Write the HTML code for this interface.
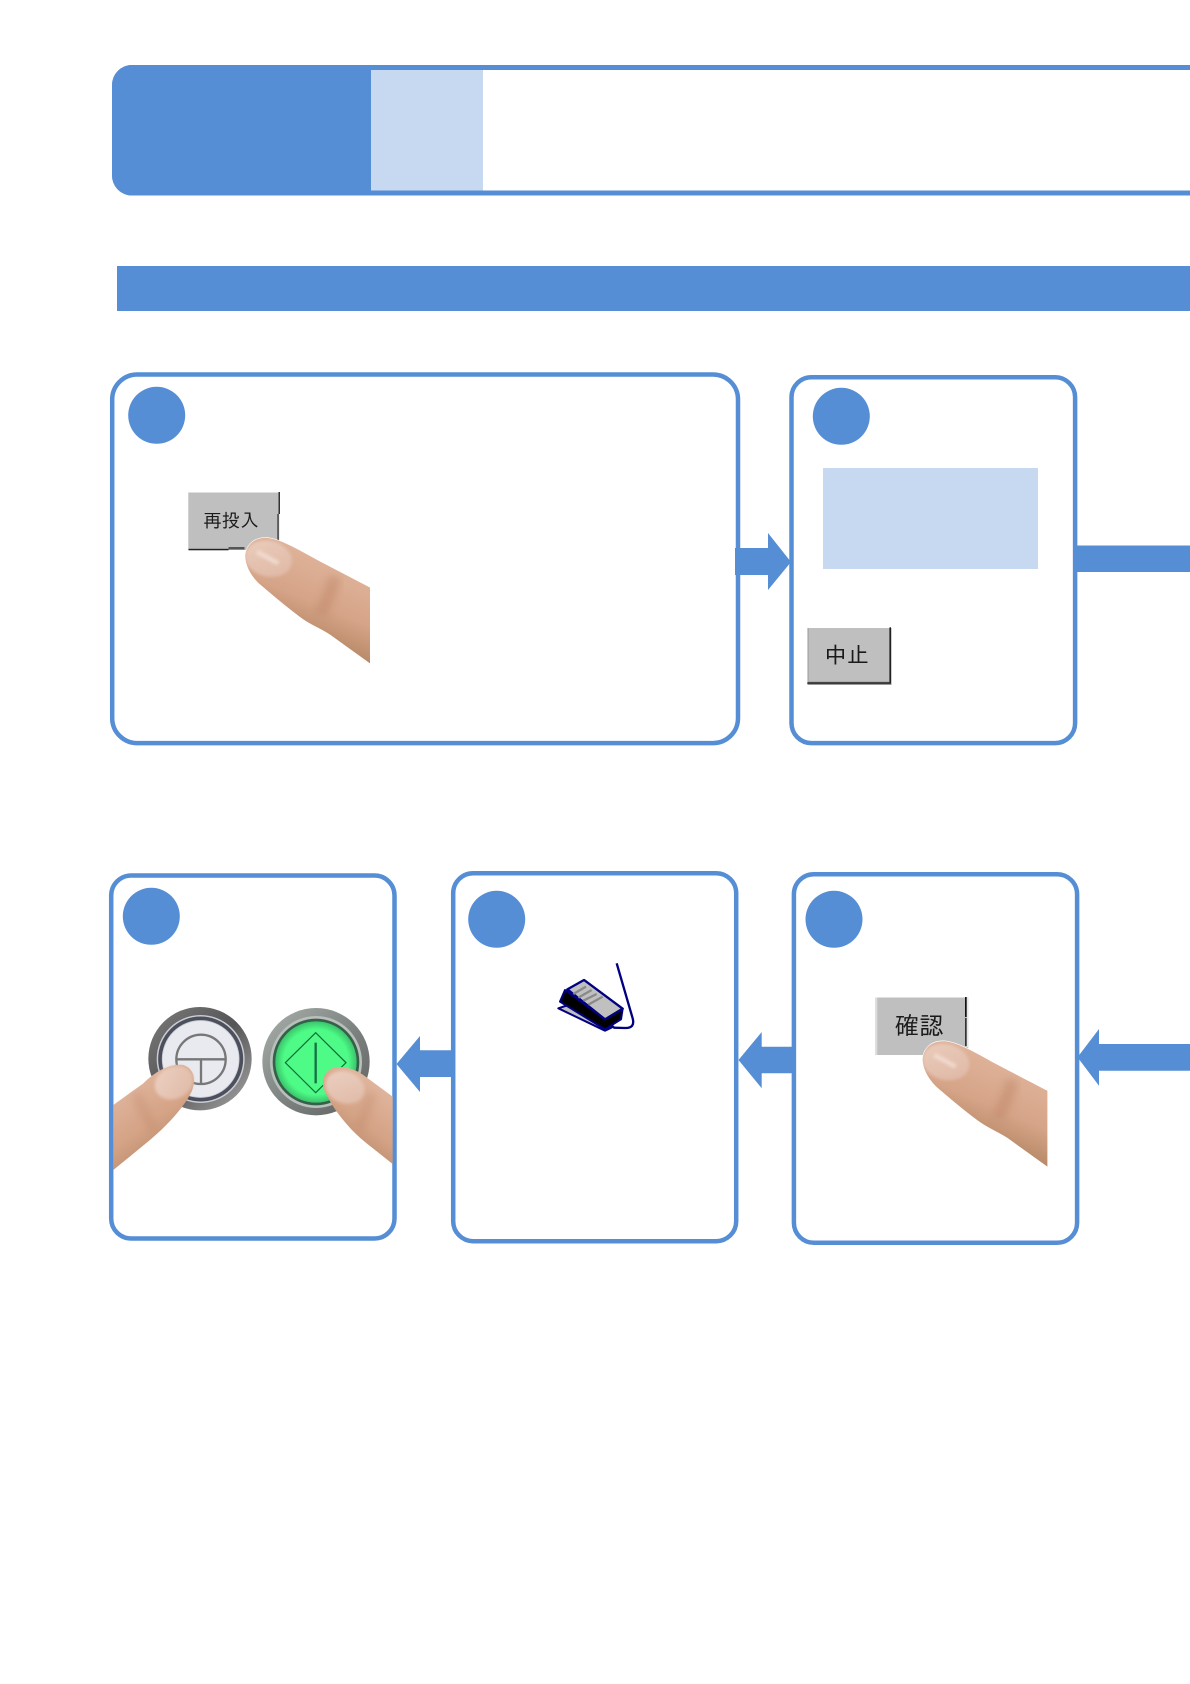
<!DOCTYPE html>
<html lang="ja">
<head>
<meta charset="utf-8">
<style>
html,body{margin:0;padding:0;background:#fff}
body{width:1190px;height:1684px;overflow:hidden}
svg{display:block}
text{font-family:"Liberation Sans","IPAGothic","Noto Sans CJK JP",sans-serif;fill:#1a1a1a}
</style>
</head>
<body>
<svg width="1190" height="1684" viewBox="0 0 1190 1684" xmlns="http://www.w3.org/2000/svg">
<defs>
  <linearGradient id="fing" x1="0.62" y1="0.1" x2="0.3" y2="0.85">
    <stop offset="0" stop-color="#e0b59c"/>
    <stop offset="0.5" stop-color="#d6a488"/>
    <stop offset="1" stop-color="#a97d58"/>
  </linearGradient>
  <linearGradient id="fingL" x1="0.3" y1="0.1" x2="0.7" y2="0.85">
    <stop offset="0" stop-color="#e0b69e"/>
    <stop offset="0.55" stop-color="#d5a386"/>
    <stop offset="1" stop-color="#b98a6a"/>
  </linearGradient>
  <linearGradient id="fingR" x1="0.7" y1="0.1" x2="0.3" y2="0.85">
    <stop offset="0" stop-color="#e0b69e"/>
    <stop offset="0.55" stop-color="#d5a386"/>
    <stop offset="1" stop-color="#b98a6a"/>
  </linearGradient>
  <linearGradient id="nail" x1="0" y1="0" x2="1" y2="1">
    <stop offset="0" stop-color="#ecd0c2"/>
    <stop offset="1" stop-color="#dfb9a6"/>
  </linearGradient>
  <linearGradient id="ring1" x1="0" y1="0" x2="1" y2="1">
    <stop offset="0" stop-color="#7c7c7c"/>
    <stop offset="0.5" stop-color="#555557"/>
    <stop offset="1" stop-color="#a8a8a8"/>
  </linearGradient>
  <linearGradient id="ring2" x1="0" y1="0" x2="1" y2="1">
    <stop offset="0" stop-color="#a9b0ac"/>
    <stop offset="0.5" stop-color="#7f8582"/>
    <stop offset="1" stop-color="#5f5f5f"/>
  </linearGradient>
  <radialGradient id="green">
    <stop offset="0.8" stop-color="#4dfb86"/>
    <stop offset="1" stop-color="#3cc46c"/>
  </radialGradient>
  <filter id="b3" x="-30%" y="-30%" width="160%" height="160%"><feGaussianBlur stdDeviation="5"/></filter>
  <filter id="b8" x="-60%" y="-30%" width="220%" height="160%"><feGaussianBlur stdDeviation="12"/></filter>
  <clipPath id="fclip"><path d="M435,585 C440,550 465,530 505,533 C545,538 600,570 650,598 L811,682 L811,912 L690,825 C660,805 630,795 600,772 C550,735 510,700 475,670 C450,645 435,615 435,585 Z"/></clipPath>
  <g id="finger">
    <path d="M435,585 C440,550 465,530 505,533 C545,538 600,570 650,598 L811,682 L811,912 L690,825 C660,805 630,795 600,772 C550,735 510,700 475,670 C450,645 435,615 435,585 Z" fill="url(#fing)" stroke="#fff" stroke-width="2"/>
    <g clip-path="url(#fclip)">
      <path d="M705,650 C695,690 680,725 660,765" stroke="#bd8466" stroke-width="38" fill="none" opacity=".45" filter="url(#b8)"/>
      <ellipse cx="505" cy="596" rx="72" ry="54" fill="url(#nail)" transform="rotate(14 505 596)" filter="url(#b3)" opacity=".9"/>
      <path d="M470,575 L535,610" stroke="#f3e0d6" stroke-width="14" fill="none" opacity=".8" filter="url(#b3)"/>
    </g>
  </g>
</defs>

<!-- header -->
<path d="M1190,65 H132 A20,20 0 0 0 112,85 V175 A20,20 0 0 0 132,195.500 H1190 V190.500 H371 V70 H1190 Z" fill="#558ed5"/>
<rect x="112" y="65" width="259" height="130.500" rx="20" fill="#558ed5"/>
<rect x="150" y="65" width="221" height="130.500" fill="#558ed5"/>
<rect x="371" y="70" width="112" height="120.500" fill="#c6d9f1"/>
<rect x="117" y="266" width="1073" height="45" fill="#558ed5"/>

<!-- connectors -->
<g fill="#558ed5">
  <polygon points="735,548 768,548 768,533 791,562 768,590 768,575 735,575"/>
  <rect x="1075" y="545.500" width="115" height="26.500"/>
  <polygon points="396.500,1064 420,1036 420,1050.300 453,1050.300 453,1077 420,1077 420,1092"/>
  <polygon points="738.500,1060 761.700,1032 761.700,1046.700 794,1046.700 794,1073.300 761.700,1073.300 761.700,1088.300"/>
  <polygon points="1077.500,1057.300 1099,1029 1099,1044 1190,1044 1190,1070.700 1099,1070.700 1099,1085.700"/>
</g>

<!-- cards -->
<g fill="none" stroke="#558ed5" stroke-width="4.500">
  <rect x="112.200" y="374.500" width="625.800" height="368.600" rx="25"/>
  <rect x="791.500" y="377.200" width="283.600" height="365.900" rx="20"/>
  <rect x="111.200" y="875.500" width="283.300" height="363" rx="20"/>
  <rect x="453.200" y="873.200" width="283" height="368" rx="20"/>
  <rect x="793.900" y="874.200" width="283.200" height="368.600" rx="20"/>
</g>
<g fill="#558ed5">
  <circle cx="156.700" cy="415.300" r="28.500"/>
  <circle cx="841.300" cy="416.300" r="28.500"/>
  <circle cx="151.300" cy="916.300" r="28.500"/>
  <circle cx="496.700" cy="919.300" r="28.500"/>
  <circle cx="834" cy="919.300" r="28.500"/>
</g>
<rect x="823" y="468" width="215" height="101" fill="#c6d9f1"/>

<!-- 再投入 button -->
<rect x="188.300" y="492.500" width="91" height="57.500" fill="#bfbfbf"/>
<rect x="278.500" y="492" width="1.500" height="22" fill="#333"/>
<rect x="277.300" y="514" width="1.500" height="26" fill="#444"/>
<rect x="188.500" y="548.800" width="40" height="1.500" fill="#222"/>
<rect x="228.500" y="547" width="16" height="2.500" fill="#555"/>
<text x="231" y="527" font-size="18.500" text-anchor="middle">再投入</text>
<g transform="translate(100,360) scale(.33333)"><use href="#finger"/></g>

<!-- 中止 button -->
<rect x="807.500" y="628" width="84" height="57" fill="#9a9a9a"/>
<rect x="808.500" y="628" width="80.500" height="53.500" fill="#bfbfbf"/>
<rect x="889.500" y="627.300" width="1.500" height="56" fill="#222"/>
<rect x="807.300" y="682.300" width="83.500" height="1.500" fill="#222"/>
<text x="846.700" y="663" font-size="22.500" text-anchor="middle">中止</text>

<!-- 確認 button -->
<rect x="875.300" y="997.500" width="93" height="57.500" fill="#bfbfbf"/>
<rect x="875.300" y="997.500" width="2" height="57.500" fill="#dcdcdc"/>
<rect x="965" y="997" width="1.800" height="20" fill="#111"/>
<rect x="965" y="1018" width="1.800" height="28" fill="#333"/>
<rect x="966.800" y="997" width="1.500" height="50" fill="#e6e6e6"/>
<text x="919.300" y="1034.500" font-size="24.500" text-anchor="middle">確認</text>
<g transform="translate(777.400,863.300) scale(.33333)"><use href="#finger"/></g>

<!-- foot pedal -->
<g transform="translate(510,930) scale(.33333)" stroke-linejoin="round">
  <path d="M320,100 L368,265 Q376,295 345,294 L310,293" fill="none" stroke="#000080" stroke-width="7"/>
  <polygon points="145,235 175,225 310,290 285,302" fill="#c0c0c0" stroke="#000080" stroke-width="6"/>
  <polygon points="165,180 150,215 285,298 333,268 338,236 285,268" fill="#000" stroke="#000080" stroke-width="6"/>
  <polygon points="172,178 222,150 338,236 285,268" fill="#c0c0c0" stroke="#000080" stroke-width="7"/>
  <g stroke="#8a8a8a" stroke-width="7" fill="none">
    <line x1="190" y1="192" x2="228" y2="170"/>
    <line x1="205" y1="203" x2="245" y2="180"/>
    <line x1="220" y1="212" x2="260" y2="192"/>
    <line x1="235" y1="224" x2="278" y2="200"/>
  </g>
</g>

<!-- illuminated buttons and fingers -->
<g transform="translate(100,860) scale(.33333)">
  <circle cx="300" cy="596" r="155" fill="url(#ring1)"/>
  <circle cx="302" cy="597" r="132" fill="#c9ccd2"/>
  <circle cx="302" cy="597" r="122" fill="none" stroke="#4c4f5c" stroke-width="11"/>
  <circle cx="302" cy="597" r="114" fill="#e9eaf0"/>
  <circle cx="303" cy="598" r="74" fill="none" stroke="#777" stroke-width="7"/>
  <path d="M229,598 H377 M303,598 V672" fill="none" stroke="#777" stroke-width="7"/>

  <circle cx="648" cy="605" r="161" fill="url(#ring2)"/>
  <circle cx="648" cy="606" r="138" fill="#b9bfbb"/>
  <circle cx="648" cy="606" r="130" fill="#35604a"/>
  <circle cx="648" cy="606" r="122" fill="url(#green)"/>
  <polygon points="647,518 738,608 647,698 556,608" fill="none" stroke="#0f6a3a" stroke-width="3.500"/>
  <line x1="647" y1="548" x2="647" y2="670" stroke="#157045" stroke-width="7"/>

  <path d="M40,735 L130,670 C170,630 215,610 250,615 C280,625 290,655 275,695 C255,735 215,785 150,840 L40,930 Z" fill="url(#fingL)"/>
  <path d="M110,700 C125,745 140,775 165,810" stroke="#bd8466" stroke-width="30" fill="none" opacity=".3" filter="url(#b8)"/>
  <ellipse cx="222" cy="668" rx="60" ry="48" fill="url(#nail)" transform="rotate(-25 222 668)" filter="url(#b3)"/>
  <path d="M878,710 L790,645 C760,625 725,615 695,625 C668,640 660,670 680,705 C705,755 750,810 800,850 L878,912 Z" fill="url(#fingR)"/>
  <path d="M815,700 C800,745 790,775 775,810" stroke="#bd8466" stroke-width="30" fill="none" opacity=".3" filter="url(#b8)"/>
  <ellipse cx="735" cy="682" rx="60" ry="48" fill="url(#nail)" transform="rotate(20 735 682)" filter="url(#b3)"/>
</g>
</svg>
</body>
</html>
